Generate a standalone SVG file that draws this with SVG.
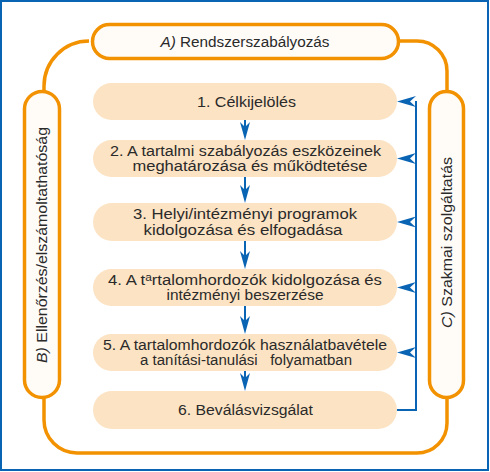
<svg xmlns="http://www.w3.org/2000/svg" width="490" height="472" viewBox="0 0 490 472">
<style>
.frame{fill:#ffffff;stroke:#0a64b4;stroke-width:2}
.loop{fill:none;stroke:#f39200;stroke-width:3.5}
.lbl{fill:#fffcf8;stroke:#f39200;stroke-width:3.5}
.step{fill:#fce3c3;stroke:none}
.t{font-family:"Liberation Sans",Arial,sans-serif;font-size:14px;fill:#2a2a2a;text-anchor:middle}
.blue{fill:none;stroke:#0a64b4;stroke-width:2}
.head{fill:#0a64b4;stroke:none}
</style>
<rect class="frame" x="1" y="1" width="487" height="469"/>
<g id="connectors">
<path class="loop" d="M400,41 H417 A30,30 0 0 1 447,71 V423 A30,30 0 0 1 417,453 H77 A33,33 0 0 1 44,420 V86 A45,45 0 0 1 89,41"/>
<path class="blue" d="M397,410 H416 V101"/>
<g id="down-arrows">
<line class="blue" x1="245" y1="120" x2="245" y2="130"/>
<polygon class="head" points="245,140 240,122 245,127 250,122"/>
<line class="blue" x1="245" y1="177" x2="245" y2="193"/>
<polygon class="head" points="245,203 240,185 245,190 250,185"/>
<line class="blue" x1="245" y1="241" x2="245" y2="259"/>
<polygon class="head" points="245,269 240,251 245,256 250,251"/>
<line class="blue" x1="245" y1="306" x2="245" y2="324"/>
<polygon class="head" points="245,334 240,316 245,321 250,316"/>
<line class="blue" x1="245" y1="371" x2="245" y2="381"/>
<polygon class="head" points="245,391 240,373 245,378 250,373"/>
</g>
<g id="left-arrows">
<polygon class="head" points="397,101.5 416,96 410,101.5 416,107"/>
<polygon class="head" points="397,158.5 416,153 410,158.5 416,164"/>
<polygon class="head" points="397,222 416,216.5 410,222 416,227.5"/>
<polygon class="head" points="397,287.5 416,282 410,287.5 416,293"/>
<polygon class="head" points="397,352.5 416,347 410,352.5 416,358"/>
</g>
</g>
<g id="A">
<rect class="lbl" x="92.5" y="24.5" width="306" height="34" rx="17"/>
<text class="t" x="245" y="46.5" textLength="169" lengthAdjust="spacingAndGlyphs"><tspan font-style="italic">A)</tspan> Rendszerszabályozás</text>
</g>
<g id="B">
<rect class="lbl" x="24.5" y="91.5" width="35" height="306" rx="17.5"/>
<text class="t" transform="translate(42,245) rotate(-90)" x="0" y="5" textLength="236" lengthAdjust="spacingAndGlyphs"><tspan font-style="italic">B)</tspan> Ellenőrzés/elszámoltathatóság</text>
</g>
<g id="C">
<rect class="lbl" x="429.5" y="91.5" width="34" height="306" rx="17"/>
<text class="t" transform="translate(446.5,242.5) rotate(-90)" x="0" y="5" textLength="171" lengthAdjust="spacingAndGlyphs"><tspan font-style="italic">C)</tspan> Szakmai szolgáltatás</text>
</g>
<g id="step1">
<rect class="step" x="93" y="83" width="304" height="37" rx="18.5"/>
<text class="t" x="246.5" y="106.5" textLength="99" lengthAdjust="spacingAndGlyphs">1. Célkijelölés</text>
</g>
<g id="step2">
<rect class="step" x="93" y="140" width="304" height="37" rx="18.5"/>
<text class="t" x="245.5" y="155.7" textLength="271" lengthAdjust="spacingAndGlyphs">2. A tartalmi szabályozás eszközeinek</text>
<text class="t" x="250" y="171" textLength="235" lengthAdjust="spacingAndGlyphs">meghatározása és működtetése</text>
</g>
<g id="step3">
<rect class="step" x="93" y="203" width="304" height="38" rx="19"/>
<text class="t" x="245" y="219" textLength="224" lengthAdjust="spacingAndGlyphs">3. Helyi/intézményi programok</text>
<text class="t" x="243" y="234.5" textLength="199" lengthAdjust="spacingAndGlyphs">kidolgozása és elfogadása</text>
</g>
<g id="step4">
<rect class="step" x="93" y="269" width="304" height="37" rx="18.5"/>
<text class="t" x="245" y="284.5" textLength="274" lengthAdjust="spacingAndGlyphs">4. A t<tspan font-size="10" dy="-4">a</tspan><tspan dy="4">rtalomhordozók kidolgozása és</tspan></text>
<text class="t" x="245" y="300" textLength="157" lengthAdjust="spacingAndGlyphs">intézményi beszerzése</text>
</g>
<g id="step5">
<rect class="step" x="93" y="334" width="304" height="37" rx="18.5"/>
<text class="t" x="245" y="349.5" textLength="284" lengthAdjust="spacingAndGlyphs">5. A tartalomhordozók használatbavétele</text>
<text class="t" x="246" y="365" textLength="212" lengthAdjust="spacingAndGlyphs" xml:space="preserve">a tanítási-tanulási   folyamatban</text>
</g>
<g id="step6">
<rect class="step" x="93" y="391" width="304" height="38" rx="19"/>
<text class="t" x="245.5" y="415" textLength="135" lengthAdjust="spacingAndGlyphs">6. Beválásvizsgálat</text>
</g>
</svg>
